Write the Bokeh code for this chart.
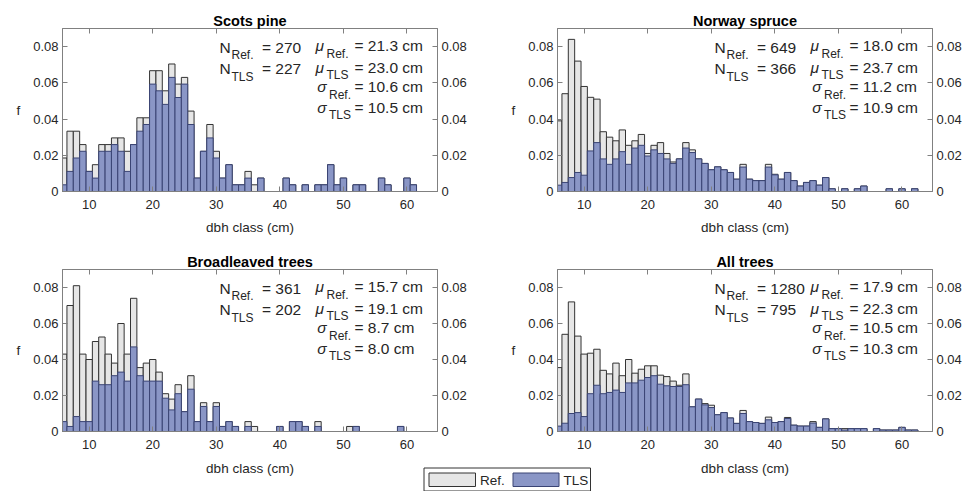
from bokeh.plotting import figure
from bokeh.models import (Range1d, LinearAxis, FixedTicker, CustomJSTickFormatter,
                          Label, ColumnDataSource)
from bokeh.layouts import column, row
from bokeh.embed import file_html
from bokeh.resources import INLINE

# ---------------- data (dbh classes 6..62 cm) ----------------
classes = list(range(6, 63))

pine_ref = [0.0185, 0.0333, 0.0333, 0.0259, 0.0111, 0.0148, 0.0259, 0.0259, 0.0296, 0.0296,
            0.0222, 0.0259, 0.0407, 0.0407, 0.0667, 0.0667, 0.0556, 0.0704, 0.0593, 0.0630,
            0.0444, 0.0074, 0.0222, 0.0370, 0.0222, 0.0074, 0.0148, 0.0037, 0.0037, 0.0111,
            0.0037, 0.0074, 0, 0, 0, 0.0074, 0.0037, 0, 0.0037, 0,
            0.0037, 0.0037, 0.0148, 0.0037, 0.0074, 0, 0.0037, 0.0037, 0, 0,
            0.0074, 0.0037, 0, 0, 0.0074, 0.0037, 0]
pine_tls = [0.0037, 0.0111, 0.0185, 0.0222, 0.0111, 0.0074, 0.0222, 0.0222, 0.0259, 0.0222,
            0.0111, 0.0259, 0.0333, 0.0370, 0.0593, 0.0556, 0.0481, 0.0630, 0.0519, 0.0593,
            0.0370, 0.0074, 0.0222, 0.0296, 0.0185, 0.0074, 0.0148, 0.0037, 0.0037, 0.0074,
            0, 0.0074, 0, 0, 0, 0.0074, 0.0037, 0, 0.0037, 0,
            0.0037, 0.0037, 0.0148, 0.0037, 0.0074, 0, 0.0037, 0.0037, 0, 0,
            0.0074, 0.0037, 0, 0, 0.0074, 0.0037, 0]

spruce_ref = [0.039, 0.054, 0.084, 0.072, 0.058, 0.052, 0.051, 0.033, 0.030, 0.028,
              0.034, 0.0255, 0.028, 0.0315, 0.021, 0.0255, 0.027, 0.021, 0.0163, 0.018,
              0.027, 0.023, 0.018, 0.0155, 0.012, 0.0136, 0.012, 0.0105, 0.0068, 0.015,
              0.0068, 0.006, 0.006, 0.015, 0.0095, 0.0068, 0.0105, 0.006, 0.003, 0.005,
              0.006, 0.0035, 0.0077, 0.0015, 0, 0.0015, 0, 0.0015, 0.003, 0,
              0, 0, 0.0015, 0, 0.0015, 0, 0.0015]
spruce_tls = [0.0035, 0.005, 0.0077, 0.0105, 0.009, 0.0224, 0.027, 0.018, 0.015, 0.018,
              0.022, 0.015, 0.024, 0.0255, 0.0196, 0.023, 0.021, 0.018, 0.0155, 0.018,
              0.024, 0.0215, 0.018, 0.0155, 0.012, 0.0136, 0.012, 0.0105, 0.0068, 0.0135,
              0.0068, 0.006, 0.006, 0.0135, 0.0092, 0.0068, 0.0105, 0.006, 0.003, 0.005,
              0.006, 0.0035, 0.0077, 0.0015, 0, 0.0015, 0, 0.0015, 0.003, 0,
              0, 0, 0.0015, 0, 0.0015, 0, 0.0015]

broad_ref = [0.043, 0.070, 0.081, 0.043, 0.040, 0.050, 0.0525, 0.043, 0.038, 0.060,
             0.043, 0.074, 0.0355, 0.038, 0.040, 0.033, 0.021, 0.018, 0.026, 0.011,
             0.031, 0.0055, 0.016, 0.0055, 0.016, 0.0028, 0.0055, 0.0028, 0, 0.0055,
             0.0028, 0, 0, 0, 0.0028, 0, 0.0055, 0.0055, 0.0028, 0,
             0.0055, 0, 0, 0, 0, 0.0028, 0.0028, 0, 0, 0,
             0, 0, 0, 0.0028, 0, 0, 0]
broad_tls = [0.0055, 0.0028, 0.0083, 0.0055, 0.0055, 0.028, 0.026, 0.026, 0.031, 0.033,
             0.028, 0.047, 0.031, 0.028, 0.028, 0.028, 0.0185, 0.012, 0.021, 0.011,
             0.0235, 0.0055, 0.0139, 0.0055, 0.0139, 0.0028, 0.0055, 0.0028, 0, 0.0028,
             0, 0, 0, 0, 0.0028, 0, 0.0055, 0.0055, 0.0028, 0,
             0.0028, 0, 0, 0, 0, 0, 0.0028, 0, 0, 0,
             0, 0, 0, 0.0028, 0, 0, 0]

all_ref = [0.0355, 0.054, 0.072, 0.053, 0.043, 0.0435, 0.0457, 0.034, 0.032, 0.038,
           0.031, 0.040, 0.0324, 0.0346, 0.0365, 0.0365, 0.0313, 0.0305, 0.028, 0.0257,
           0.032, 0.0137, 0.018, 0.0155, 0.0146, 0.0093, 0.0105, 0.0075, 0.0045, 0.0117,
           0.0055, 0.005, 0.0045, 0.008, 0.005, 0.0055, 0.0078, 0.0035, 0.003, 0.003,
           0.0055, 0.0023, 0.007, 0.0016, 0.0016, 0.0016, 0.0016, 0.0016, 0.0016, 0,
           0.0016, 0.0008, 0.0008, 0.0008, 0.0023, 0.0008, 0.0008]
all_tls = [0.003, 0.0046, 0.010, 0.0105, 0.0083, 0.021, 0.0257, 0.021, 0.0217, 0.023,
           0.0217, 0.027, 0.027, 0.0285, 0.030, 0.031, 0.0263, 0.0254, 0.025, 0.025,
           0.026, 0.0137, 0.018, 0.0148, 0.0133, 0.0093, 0.0105, 0.0075, 0.0045, 0.010,
           0.0055, 0.005, 0.0045, 0.0065, 0.005, 0.0055, 0.0072, 0.0035, 0.003, 0.003,
           0.0047, 0.0023, 0.007, 0.0016, 0.0016, 0.0008, 0.0016, 0.0016, 0.0016, 0,
           0.0016, 0.0008, 0.0008, 0.0008, 0.0023, 0.0008, 0.0008]

titles = ["Scots pine", "Norway spruce", "Broadleaved trees", "All trees"]
n_ref = [270, 649, 361, 1280]
n_tls = [227, 366, 202, 795]
mu_ref = [21.3, 18.0, 15.7, 17.9]
mu_tls = [23.0, 23.7, 19.1, 22.3]
sd_ref = [10.6, 11.2, 8.7, 10.5]
sd_tls = [10.5, 10.9, 8.0, 10.3]

x_ticks = [10, 20, 30, 40, 50, 60]
y_ticks = [0, 0.02, 0.04, 0.06, 0.08]

# ---------------- style ----------------
FONT = "Liberation Sans"
TXT = "#262626"
AX = "#808080"
REF_FILL = "#e6e6e6"
REF_LINE = "#333333"
TLS_FILL = "#8a96c6"
TLS_LINE = "#3a4474"

X0, X1 = 5.8, 64.8
Y1 = 0.09
FW = 375


def style_axis(ax, ticks, labels=True, fmt=None):
    ax.ticker = FixedTicker(ticks=ticks)
    ax.axis_line_color = AX
    ax.major_tick_line_color = AX
    ax.major_tick_in = 5
    ax.major_tick_out = 0
    ax.minor_tick_line_color = None
    ax.major_label_text_font = FONT
    ax.major_label_text_color = TXT
    if labels:
        ax.major_label_text_font_size = "13px"
        ax.major_label_standoff = 4
        if fmt is not None:
            ax.formatter = fmt
    else:
        ax.major_label_text_font_size = "0px"
        ax.major_label_standoff = 0
        ax.formatter = CustomJSTickFormatter(code="return '';")


def yfmt():
    return CustomJSTickFormatter(code="return tick === 0 ? '0' : tick.toFixed(2);")


def panel(i, ref, tls, left_b, right_b, top_b, fh, bottom_b, xlabel):
    W = left_b + FW + right_b
    H = top_b + fh + bottom_b
    p = figure(width=W, height=H, x_range=Range1d(X0, X1), y_range=Range1d(0, Y1),
               output_backend="svg", toolbar_location=None, tools="",
               min_border_left=left_b, min_border_right=right_b,
               min_border_top=top_b, min_border_bottom=bottom_b)
    p.title.text = titles[i]
    p.title.align = "center"
    p.title.text_font = FONT
    p.title.text_font_size = "14.5px"
    p.title.text_font_style = "bold"
    p.title.text_color = "black"
    p.title.standoff = 0
    p.xgrid.visible = False
    p.ygrid.visible = False
    p.outline_line_color = AX
    p.background_fill_color = "white"
    p.border_fill_color = "white"

    style_axis(p.xaxis[0], x_ticks)
    p.xaxis[0].major_label_standoff = 8
    if xlabel:
        p.xaxis[0].axis_label = "dbh class (cm)"
        p.xaxis[0].axis_label_text_font = FONT
        p.xaxis[0].axis_label_text_font_size = "13.5px"
        p.xaxis[0].axis_label_text_font_style = "normal"
        p.xaxis[0].axis_label_text_color = TXT
        p.xaxis[0].axis_label_standoff = 8
    style_axis(p.yaxis[0], y_ticks, fmt=yfmt())
    p.yaxis[0].axis_label = "f"
    p.yaxis[0].axis_label_orientation = "horizontal"
    p.yaxis[0].axis_label_text_font = FONT
    p.yaxis[0].axis_label_text_font_size = "13.5px"
    p.yaxis[0].axis_label_text_font_style = "normal"
    p.yaxis[0].axis_label_text_color = TXT
    p.yaxis[0].axis_label_standoff = 10

    ry = LinearAxis()
    style_axis(ry, y_ticks, fmt=yfmt())
    p.add_layout(ry, "right")
    tx = LinearAxis()
    style_axis(tx, x_ticks, labels=False)
    p.add_layout(tx, "above")

    rsrc = ColumnDataSource(dict(x=[c for c, v in zip(classes, ref) if v > 0],
                                 top=[v for v in ref if v > 0]))
    tsrc = ColumnDataSource(dict(x=[c for c, v in zip(classes, tls) if v > 0],
                                 top=[v for v in tls if v > 0]))
    p.vbar(x="x", top="top", bottom=0, width=1, source=rsrc,
           fill_color=REF_FILL, line_color=REF_LINE, line_width=1)
    p.vbar(x="x", top="top", bottom=0, width=1, source=tsrc,
           fill_color=TLS_FILL, line_color=TLS_LINE, line_width=1)

    def fx(r):
        return X0 + r * (X1 - X0) / FW

    def fy(t):
        return Y1 - t * Y1 / fh

    def lab(r, t, txt, size, align="left", style="normal"):
        p.add_layout(Label(x=fx(r), y=fy(t), text=txt, text_font=FONT,
                           text_font_size=size, text_font_style=style,
                           text_color=TXT, text_align=align, text_baseline="middle"))

    MAIN, SUB, DY = "15.5px", "12px", 8
    # left column: N
    for t, sub, val in [(18.5, "Ref.", n_ref[i]), (40, "TLS", n_tls[i])]:
        lab(157, t, "N", MAIN)
        lab(169, t + DY, sub, SUB)
        lab(199.5, t, f"= {val}", MAIN)
    # right column: mu, sigma
    rows = [(17, "\u03bc", "Ref.", mu_ref[i], 0), (38.5, "\u03bc", "TLS", mu_tls[i], 0),
            (58, "\u03c3", "Ref.", sd_ref[i], 2.5), (78.5, "\u03c3", "TLS", sd_tls[i], 2.5)]
    for t, sym, sub, val, sh in rows:
        lab(261.5 + sh, t, sym, MAIN, align="right", style="italic")
        lab(264 + sh, t + DY, sub, SUB)
        lab(292, t, f"= {val:.1f} cm", MAIN)
    return p


tl = panel(0, pine_ref, pine_tls, 62, 50, 28, 163, 55, True)
tr = panel(1, spruce_ref, spruce_tls, 70, 34, 28, 163, 55, True)
bl = panel(2, broad_ref, broad_tls, 62, 50, 23, 162, 25, False)
br = panel(3, all_ref, all_tls, 70, 34, 23, 162, 25, False)

# bottom strip: x labels of lower panels + legend (coords in page pixels)
s = figure(width=966, height=35, x_range=Range1d(0, 966), y_range=Range1d(491, 456),
           output_backend="svg", toolbar_location=None, tools="",
           x_axis_location=None, y_axis_location=None, min_border=0)
s.xgrid.visible = False
s.ygrid.visible = False
s.outline_line_color = None
for cx in [249.5, 744.5]:
    s.add_layout(Label(x=cx, y=468, text="dbh class (cm)", text_font=FONT,
                       text_font_size="13.5px", text_color=TXT,
                       text_align="center", text_baseline="middle"))
s.quad(left=[423.5], right=[590], top=[467.5], bottom=[490.5],
       fill_color="white", line_color="#333333", line_width=1)
s.quad(left=[428.5], right=[475], top=[472.5], bottom=[486],
       fill_color=REF_FILL, line_color=REF_LINE, line_width=1)
s.quad(left=[512.5], right=[558.5], top=[472.5], bottom=[486],
       fill_color=TLS_FILL, line_color=TLS_LINE, line_width=1)
for lx, t in [(479.5, "Ref."), (563, "TLS")]:
    s.add_layout(Label(x=lx, y=479.5, text=t, text_font=FONT, text_font_size="13.5px",
                       text_color=TXT, text_align="left", text_baseline="middle"))

layout = column(row(tl, tr), row(bl, br), s)
open("out.html", "w").write(file_html(layout, INLINE))
